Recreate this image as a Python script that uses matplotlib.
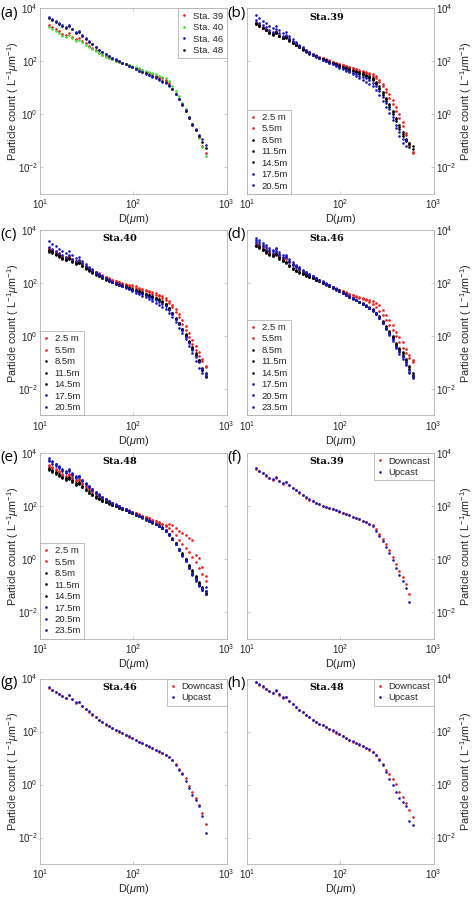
import numpy as np
import matplotlib
matplotlib.use('Agg')
import matplotlib.pyplot as plt
from matplotlib.lines import Line2D
from matplotlib.ticker import NullLocator

plt.rcParams['font.family'] = ['Liberation Sans', 'DejaVu Sans']
plt.rcParams['mathtext.fontset'] = 'custom'
plt.rcParams['mathtext.rm'] = 'Liberation Sans'
plt.rcParams['mathtext.it'] = 'Liberation Sans:italic'
plt.rcParams['mathtext.bf'] = 'Liberation Sans:bold'
plt.rcParams['mathtext.default'] = 'regular'

# ---------------- data ----------------
# particle diameter bins (um)
D_UM = [12.5, 13.57, 14.74, 16.0, 17.38, 18.87, 20.49, 22.25, 24.16, 26.24, 28.49, 30.94,
        33.6, 36.48, 39.61, 43.01, 46.71, 50.72, 55.07, 59.8, 64.94, 70.51, 76.57, 83.14,
        90.28, 98.0, 106.4, 115.6, 125.5, 136.3, 148.0, 160.7, 174.5, 189.5, 205.6, 223.4,
        242.5, 263.4, 286.0, 310.5, 337.2, 366.1, 397.5, 431.7, 468.7, 509.0, 552.6, 600.0]

# particle counts, stored as 100*log10(count [L^-1 um^-1])
# (a) station means
A_STA39 = [337,331,322,314,304,299,306,294,285,289,278,268,260,251,242,233,226,220,214,208,203,198,194,189,185,181,176,172,167,162,157,152,147,142,137,130,117,98,79,60,38,14,-12,-38,-60,-86,-118,-144]
A_STA40 = [330,324,316,308,298,293,300,288,279,283,272,263,255,247,239,231,224,218,213,208,203,199,195,191,187,183,178,174,169,165,160,156,151,147,142,137,126,108,88,68,45,20,-8,-36,-60,-88,-124,-156]
A_STA46 = [369,360,352,345,336,330,339,324,312,315,299,287,277,266,256,245,236,228,221,214,208,202,196,190,184,178,172,166,160,154,148,142,136,130,124,117,107,95,78,60,40,18,-10,-40,-54,-78,-94,-116]
A_STA48 = [366,357,349,342,333,327,335,321,309,312,297,285,275,265,255,244,235,227,220,213,207,201,195,189,184,178,172,166,160,155,150,145,140,134,128,121,110,95,77,57,36,14,-12,-36,-58,-82,-104,-128]

# (b) Sta.39 depth profiles
B_2P5 = [348,340,331,323,313,307,314,301,292,296,284,274,266,258,250,242,235,229,223,218,213,208,204,199,195,191,187,183,179,175,171,168,165,162,158,152,144,132,116,98,78,56,30,2,-28,-70,-108,-140]
B_5P5 = [344,337,328,320,311,305,312,300,290,294,282,272,264,256,248,241,234,228,222,217,212,207,203,198,194,190,186,182,178,174,170,166,162,158,153,146,136,122,106,86,64,40,14,-14,-44,-78,-116,-146]
B_8P5 = [342,335,326,318,308,302,309,297,288,292,280,270,262,254,246,238,231,225,219,214,209,204,199,195,190,186,181,177,172,168,164,159,155,150,145,137,124,106,86,64,40,14,-14,-40,-66,-94,-112,-120]
B_11P5 = [340,333,325,317,307,301,307,296,287,290,279,269,261,253,245,237,230,224,218,213,208,203,198,193,189,184,180,175,171,166,161,157,152,147,141,133,119,100,80,58,34,8,-18,-46,-72,-100,-124,-130]
B_14P5 = [345,337,328,320,310,304,311,298,289,293,281,271,263,255,247,239,232,226,220,214,209,204,199,194,189,184,179,174,169,164,159,154,149,144,138,129,115,96,75,52,28,2,-26,-54,-80,-96,-108]
B_17P5 = [355,347,338,330,320,313,321,307,297,301,288,277,268,259,250,241,233,226,219,213,207,201,196,190,185,180,175,169,164,158,153,147,142,136,129,120,106,88,66,44,20,-8,-38,-66,-92,-118]
B_20P5 = [374,364,354,345,334,327,334,319,308,310,296,284,274,264,254,245,236,228,221,214,207,201,195,189,183,177,171,165,159,153,146,139,132,124,116,106,92,74,52,30,6,-20,-50,-82,-106,-96]

# (c) Sta.40 depth profiles
C_2P5 = [332,326,318,311,302,297,303,290,282,285,274,265,257,250,243,236,229,223,218,213,209,205,201,198,194,191,187,183,179,175,171,166,161,156,150,142,132,118,100,82,60,36,10,-14,-36,-60,-86,-112]
C_5P5 = [328,322,314,307,298,293,299,287,279,282,271,262,254,247,240,233,227,221,216,211,206,202,198,194,190,186,182,178,174,170,165,160,155,150,144,136,124,108,90,70,46,22,-4,-30,-52,-74,-96,-118]
C_8P5 = [322,316,309,302,293,288,294,282,274,277,266,257,249,241,234,227,220,214,208,203,198,194,190,186,182,178,173,169,164,159,154,149,143,137,130,120,104,86,66,48,28,6,-18,-42,-66,-90,-120,-150]
C_11P5 = [318,312,305,298,290,285,290,279,271,274,263,254,246,239,232,225,218,212,207,202,197,192,188,184,180,175,171,166,161,156,151,146,140,134,127,117,101,84,64,44,24,0,-24,-48,-70,-92,-128,-140]
C_14P5 = [325,319,311,304,295,290,296,284,276,279,268,258,250,243,236,229,222,216,210,205,200,195,191,187,183,179,174,170,165,160,155,150,144,138,131,122,106,88,68,48,26,2,-22,-46,-70,-96,-130,-156]
C_17P5 = [336,329,321,313,304,299,305,292,283,286,274,264,255,247,239,231,224,217,211,205,199,194,189,184,179,174,169,164,158,153,147,141,135,129,122,113,98,82,64,44,22,-2,-26,-52,-80,-100,-126,-142]
C_20P5 = [359,349,339,330,320,314,322,306,295,298,283,271,261,252,243,234,226,219,212,205,199,193,187,181,176,170,164,158,152,146,140,133,126,118,110,100,86,70,52,32,12,-12,-38,-64,-96,-122,-140,-150]

# (d) Sta.46 depth profiles
D_2P5 = [351,343,334,326,316,310,317,303,293,296,282,270,261,252,243,235,227,220,213,207,201,195,190,185,180,175,170,165,160,155,150,146,142,139,136,132,126,116,98,80,60,40,16,-4,-22,-50,-72,-90]
D_5P5 = [345,338,329,321,311,305,312,299,289,292,279,268,259,250,242,234,226,219,212,206,200,195,190,184,179,174,169,164,159,154,149,144,139,134,128,120,108,94,78,60,42,22,0,-22,-46,-66,-84,-100]
D_8P5 = [341,334,326,318,308,302,308,294,283,278,264,253,246,240,234,229,224,219,213,207,201,195,189,182,176,170,163,156,149,142,135,128,121,113,106,98,86,72,54,32,16,0,-30,-48,-66,-92,-118,-146]
D_11P5 = [338,331,323,315,306,300,305,292,282,277,263,252,245,239,233,228,223,218,212,206,200,194,188,181,175,169,162,155,148,141,134,127,120,112,105,96,84,68,50,30,12,-6,-34,-54,-72,-98,-124,-150]
D_14P5 = [344,337,329,321,311,305,311,297,287,281,267,256,249,243,237,231,226,221,215,209,203,197,191,184,178,172,165,158,151,144,137,130,123,116,108,100,88,74,56,36,18,-2,-26,-44,-62,-88,-112,-138]
D_17P5 = [355,347,338,330,320,314,321,306,295,297,280,268,260,252,245,238,231,225,218,211,204,198,191,184,177,170,163,156,149,142,135,128,121,113,106,97,84,68,48,28,8,-12,-40,-62,-80,-104,-136,-160]
D_20P5 = [362,353,344,335,325,319,327,311,299,301,284,272,263,255,247,240,233,226,219,212,205,198,191,184,177,170,163,156,149,142,135,128,121,114,106,98,86,70,52,30,10,-10,-38,-58,-76,-100,-128,-150]
D_23P5 = [370,361,351,342,332,325,333,316,304,306,289,278,268,259,250,242,234,227,220,213,206,199,192,185,178,171,164,157,150,143,136,129,122,115,107,98,85,68,48,26,4,-18,-46,-68,-86,-110,-140,-156]

# (e) Sta.48 depth profiles
E_2P5 = [356,348,340,332,322,316,322,309,299,302,289,278,268,258,249,240,232,225,218,212,206,200,195,190,185,180,175,170,165,160,155,150,145,140,134,131,132,128,118,108,98,90,82,74,16,6,-30,-63]
E_5P5 = [352,344,336,328,318,312,318,305,295,298,285,274,264,255,246,237,229,222,216,210,204,199,194,189,184,179,174,169,164,159,154,149,144,138,132,126,118,106,90,74,58,42,26,8,-12,-32,-56,-82]
E_8P5 = [340,333,325,318,309,303,308,296,286,288,274,263,252,243,235,227,221,216,211,205,200,195,190,185,180,175,169,164,158,152,146,140,134,127,120,108,94,78,60,38,20,0,-24,-46,-68,-88,-110,-126]
E_11P5 = [336,329,322,315,306,300,304,292,282,284,271,260,250,241,233,226,220,215,210,205,200,195,190,185,180,174,168,162,156,150,144,138,132,126,119,106,92,76,56,36,16,-4,-28,-50,-72,-94,-114,-130]
E_14P5 = [344,337,329,321,312,306,311,298,288,290,277,266,256,247,239,231,224,218,212,206,201,196,191,186,180,175,169,164,158,152,146,140,134,128,121,110,96,80,60,40,22,2,-20,-42,-62,-84,-104,-120]
E_17P5 = [370,361,352,343,333,326,333,318,307,310,295,283,272,261,251,242,233,226,219,212,206,200,194,188,182,176,170,164,158,152,146,140,133,126,118,108,94,76,56,36,16,-6,-32,-56,-78,-98,-116,-130]
E_20P5 = [381,371,361,351,340,333,340,324,313,315,300,287,276,265,255,245,236,228,221,214,207,201,195,189,183,177,171,165,159,153,147,141,134,127,119,109,95,78,58,38,18,-4,-30,-54,-76,-100,-112,-104]
E_23P5 = [376,367,358,349,338,331,338,322,311,313,298,286,275,264,254,244,235,227,220,213,206,200,194,188,182,176,170,164,158,152,146,140,133,126,118,108,93,76,56,34,14,-8,-34,-58,-80,-98,-110,-118]

# (f)-(h) downcast / upcast
F_DOWN = [340,333,324,316,305,300,308,295,286,291,279,268,260,251,242,232,225,219,213,207,202,198,194,189,185,180,176,171,166,161,156,151,146,141,135,128,114,95,77,58,36,10,-18,-46,-66,-92,-132]
F_UP = [343,335,326,318,307,302,310,297,288,293,281,270,262,253,244,234,227,220,214,208,203,198,194,190,185,181,176,171,166,161,156,151,146,140,134,125,108,88,68,48,25,-2,-32,-58,-80,-110,-162]
G_DOWN = [365,357,349,342,333,327,336,321,309,312,296,284,275,264,254,243,234,226,219,212,206,200,194,187,181,174,168,161,155,149,143,137,131,124,118,112,104,94,78,60,44,24,-4,-28,-52,-76,-108,-148]
G_UP = [368,358,350,343,334,328,337,322,310,313,297,285,276,265,255,244,235,227,220,213,207,201,195,188,182,175,169,162,156,150,144,138,132,125,119,112,103,92,74,56,38,14,-14,-40,-60,-82,-118,-182]
H_DOWN = [386,377,368,361,351,345,353,339,328,330,315,303,293,282,272,262,253,244,236,229,223,217,210,203,196,189,182,175,168,162,156,150,144,138,132,124,112,96,78,56,38,22,2,-28,-48,-70,-96,-124]
H_UP = [388,378,370,362,352,346,355,340,329,332,316,304,294,283,273,263,254,245,237,230,224,217,211,204,197,190,183,176,169,163,157,151,145,139,133,124,110,92,72,48,22,-2,-30,-52,-66,-80,-138,-152]

DEPTH_LABELS_7 = ['2.5 m', '5.5m', '8.5m', '11.5m', '14.5m', '17.5m', '20.5m']
DEPTH_LABELS_8 = ['2.5 m', '5.5m', '8.5m', '11.5m', '14.5m', '17.5m', '20.5m', '23.5m']
STATION_LABELS = ['Sta. 39', 'Sta. 40', 'Sta. 46', 'Sta. 48']
CAST_LABELS = ['Downcast', 'Upcast']
X_TICKS = [10, 100, 1000]
X_TICKLABELS = ['$10^{1}$', '$10^{2}$', '$10^{3}$']
Y_TICKS = [1e-2, 1e0, 1e2, 1e4]
Y_TICKLABELS = ['$10^{-2}$', '$10^{0}$', '$10^{2}$', '$10^{4}$']

# ---------------- style ----------------
RED = '#ec1c1c'
GREEN = '#3ade3a'
BLUE = '#1818b8'
BLACK = '#000000'
SPINE = '#b4b4b4'
TXT = '#262626'
DEPTH_COLORS_7 = [RED, RED, BLACK, BLACK, BLACK, BLUE, BLUE]
DEPTH_COLORS_8 = [RED, RED, BLACK, BLACK, BLACK, BLUE, BLUE, BLUE]

panels = [
    dict(letter='(a)', title=None, col=0, row=0, loc='upper right',
         series=[A_STA39, A_STA40, A_STA46, A_STA48], labels=STATION_LABELS,
         colors=[RED, GREEN, BLUE, BLACK], zorders=[2, 3, 5, 4]),
    dict(letter='(b)', title='Sta.39', col=1, row=0, loc='lower left',
         series=[B_2P5, B_5P5, B_8P5, B_11P5, B_14P5, B_17P5, B_20P5],
         labels=DEPTH_LABELS_7, colors=DEPTH_COLORS_7),
    dict(letter='(c)', title='Sta.40', col=0, row=1, loc='lower left',
         series=[C_2P5, C_5P5, C_8P5, C_11P5, C_14P5, C_17P5, C_20P5],
         labels=DEPTH_LABELS_7, colors=DEPTH_COLORS_7),
    dict(letter='(d)', title='Sta.46', col=1, row=1, loc='lower left',
         series=[D_2P5, D_5P5, D_8P5, D_11P5, D_14P5, D_17P5, D_20P5, D_23P5],
         labels=DEPTH_LABELS_8, colors=DEPTH_COLORS_8),
    dict(letter='(e)', title='Sta.48', col=0, row=2, loc='lower left',
         series=[E_2P5, E_5P5, E_8P5, E_11P5, E_14P5, E_17P5, E_20P5, E_23P5],
         labels=DEPTH_LABELS_8, colors=DEPTH_COLORS_8),
    dict(letter='(f)', title='Sta.39', col=1, row=2, loc='upper right',
         series=[F_DOWN, F_UP], labels=CAST_LABELS, colors=[RED, BLUE]),
    dict(letter='(g)', title='Sta.46', col=0, row=3, loc='upper right',
         series=[G_DOWN, G_UP], labels=CAST_LABELS, colors=[RED, BLUE]),
    dict(letter='(h)', title='Sta.48', col=1, row=3, loc='upper right',
         series=[H_DOWN, H_UP], labels=CAST_LABELS, colors=[RED, BLUE]),
]

FIG_W, FIG_H = 474, 897
fig = plt.figure(figsize=(FIG_W / 100, FIG_H / 100), dpi=100)

COL_X = [40, 247]
AX_W = 186.5
ROW_TOP = [8.5, 230, 453.3, 678.5]
AX_H = 185.5
MS = 1.9

D = np.array(D_UM)
for p in panels:
    x0 = COL_X[p['col']]
    top = ROW_TOP[p['row']]
    ax = fig.add_axes([x0 / FIG_W, 1 - (top + AX_H) / FIG_H, AX_W / FIG_W, AX_H / FIG_H])
    zs = p.get('zorders', list(range(2, 2 + len(p['series']))))
    handles = []
    for vals, lab, c, z in zip(p['series'], p['labels'], p['colors'], zs):
        v = np.array(vals, dtype=float)
        ax.plot(D[:len(v)], 10 ** (v / 100.0), ls='none', marker='o', ms=MS, mew=0,
                color=c, zorder=z)
        handles.append(Line2D([], [], ls='none', marker='o', ms=MS, mew=0, color=c, label=lab))
    ax.set_xscale('log')
    ax.set_yscale('log')
    ax.set_xlim(10, 1000)
    ax.set_ylim(1e-3, 1e4)
    ax.set_xticks(X_TICKS, X_TICKLABELS)
    ax.set_yticks(Y_TICKS, Y_TICKLABELS)
    ax.xaxis.set_minor_locator(NullLocator())
    ax.yaxis.set_minor_locator(NullLocator())
    ax.tick_params(direction='in', length=2.5, width=0.5, color=SPINE, labelsize=7,
                   labelcolor=TXT, top=True, right=True)
    ax.tick_params(axis='x', pad=2.5)
    ax.tick_params(axis='y', pad=1.5)
    for s in ax.spines.values():
        s.set_color(SPINE)
        s.set_linewidth(0.6)
    ax.set_xlabel(r'D($\mathit{\mu}$m)', fontsize=7.8, color=TXT)
    ax.xaxis.set_label_coords(0.5, -0.135)
    ax.xaxis.label.set_va('center')
    ax.set_ylabel(r'Particle count ( L$^{-1}$$\mathit{\mu}$m$^{-1}$)', fontsize=7.8, color=TXT)
    if p['col'] == 1:
        ax.tick_params(axis='y', labelleft=False, labelright=True)
        ax.yaxis.set_label_position('right')
        ax.yaxis.set_label_coords((466 - x0) / AX_W, 0.5)
    else:
        ax.yaxis.set_label_coords((13 - x0) / AX_W, 0.5)
    ax.yaxis.label.set_va('center')

    if p['title']:
        ax.text(0.43, 1 - 8.5 / AX_H, p['title'], transform=ax.transAxes,
                ha='center', va='center', fontsize=7, family='DejaVu Serif',
                fontweight='bold', color='black')

    leg = ax.legend(handles=handles, loc=p['loc'], borderaxespad=0, fontsize=6.8,
                    fancybox=False, framealpha=1, edgecolor='#a6a6a6', handlelength=0.6,
                    handletextpad=0.6, labelspacing=0.26, borderpad=0.35)
    leg.get_frame().set_linewidth(0.5)
    for t in leg.get_texts():
        t.set_color(TXT)

    lx = 0.5 if p['col'] == 0 else 227
    fig.text(lx / FIG_W, 1 - (top + 4.5) / FIG_H, p['letter'], fontsize=11,
             family='Open Sans', ha='left', va='center', color='black')

fig.savefig('out.png', dpi=100)
